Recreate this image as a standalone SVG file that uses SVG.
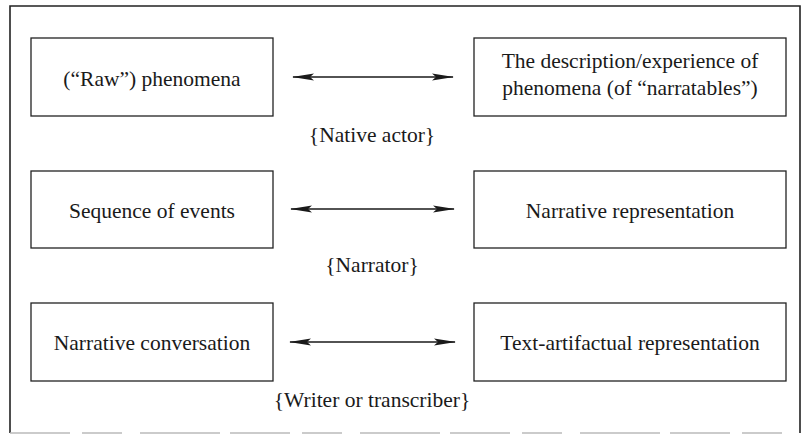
<svg xmlns="http://www.w3.org/2000/svg" width="803" height="436" viewBox="0 0 803 436">
  <style>
    .box { fill: #ffffff; stroke: #222; stroke-width: 1.3; }
    .t { font-size: 21.5px; fill: #1a1a1a; text-anchor: middle; }
    .conn { stroke: #1a1a1a; stroke-width: 1.6; fill: none; marker-start: url(#ah); marker-end: url(#ah); }
    .frame { fill: none; stroke: #222; stroke-width: 1.6; }
  </style>
  <defs>
    <marker id="ah" viewBox="0 0 22 9" refX="21" refY="4.5" markerWidth="22" markerHeight="9" markerUnits="userSpaceOnUse" orient="auto-start-reverse">
      <path d="M0,1 L22,4.5 L0,8 L4,4.5 Z" fill="#1a1a1a"/>
    </marker>
  </defs>
  <rect width="803" height="436" fill="#ffffff"/>
  <g id="frame">
    <path class="frame" d="M10,433 L10,6 L800,6 L800,433"/>
    <path d="M10,433 L800,433" stroke="#bbb" stroke-width="1.6" stroke-dasharray="60,12,40,18,80,10"/>
  </g>
  <g font-family="Liberation Serif, DejaVu Serif, Times New Roman, serif">
  <g id="raw-phenomena">
    <rect class="box" x="31" y="38" width="242" height="78"/>
    <text class="t" x="152" y="86">(“Raw”) phenomena</text>
  </g>
  <g id="description-experience">
    <rect class="box" x="474" y="38" width="312" height="78"/>
    <text class="t" x="630" y="68">The description/experience of</text>
    <text class="t" x="630" y="95">phenomena (of “narratables”)</text>
  </g>
  <g id="sequence-of-events">
    <rect class="box" x="31" y="171" width="242" height="77"/>
    <text class="t" x="152" y="218">Sequence of events</text>
  </g>
  <g id="narrative-representation">
    <rect class="box" x="474" y="171" width="312" height="77"/>
    <text class="t" x="630" y="218">Narrative representation</text>
  </g>
  <g id="narrative-conversation">
    <rect class="box" x="31" y="303" width="242" height="78"/>
    <text class="t" x="152" y="350">Narrative conversation</text>
  </g>
  <g id="text-artifactual-representation">
    <rect class="box" x="474" y="303" width="312" height="78"/>
    <text class="t" x="630" y="350">Text-artifactual representation</text>
  </g>
  <g id="connectors">
    <line class="conn" x1="293" y1="77" x2="453" y2="77"/>
    <line class="conn" x1="291" y1="209" x2="454" y2="209"/>
    <line class="conn" x1="290" y1="342" x2="455" y2="342"/>
    <text class="t" x="372" y="142">{Native actor}</text>
    <text class="t" x="372" y="272">{Narrator}</text>
    <text class="t" x="372" y="407">{Writer or transcriber}</text>
  </g>
  </g>
</svg>
